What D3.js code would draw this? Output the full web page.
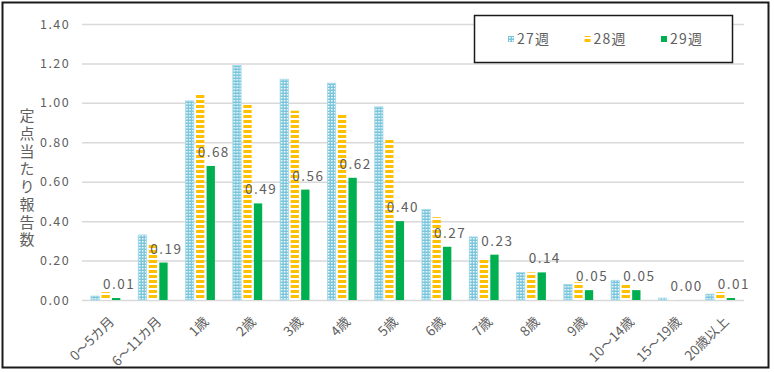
<!DOCTYPE html>
<html>
<head>
<meta charset="utf-8">
<script src="https://cdn.jsdelivr.net/npm/d3@7"></script>
<style>
  body { margin: 0; background: #fff; }
  svg text { font-family: "Noto Sans CJK JP", "Noto Sans", sans-serif; fill: #606060; }
</style>
</head>
<body>
<svg id="chart" width="774" height="372"></svg>
<script>
const categories = ['0～5カ月', '6～11カ月', '1歳', '2歳', '3歳', '4歳', '5歳', '6歳', '7歳', '8歳', '9歳', '10～14歳', '15～19歳', '20歳以上'];
const series = ['27週', '28週', '29週'];
const week27 = [0.02, 0.33, 1.01, 1.19, 1.12, 1.10, 0.98, 0.46, 0.32, 0.14, 0.08, 0.10, 0.01, 0.03];
const week28 = [0.04, 0.28, 1.04, 0.99, 0.96, 0.94, 0.82, 0.42, 0.21, 0.14, 0.09, 0.08, 0.01, 0.04];
const week29 = [0.01, 0.19, 0.68, 0.49, 0.56, 0.62, 0.40, 0.27, 0.23, 0.14, 0.05, 0.05, 0.00, 0.01];
const yTicks = [0, 0.2, 0.4, 0.6, 0.8, 1.0, 1.2, 1.4];
const yTitle = '定点当たり報告数';

const values = [week27, week28, week29];
const rows = categories.map((c, i) => ({
  cat: c,
  vals: series.map((s, j) => ({ s, v: values[j][i] }))
}));

const svg = d3.select('#chart');
const plot = { left: 82, right: 744, top: 24, bottom: 300 };

// patterns
const defs = svg.append('defs');
const dots = defs.append('pattern')
  .attr('id', 'p27').attr('patternUnits', 'userSpaceOnUse')
  .attr('width', 3).attr('height', 3);
dots.append('rect').attr('width', 3).attr('height', 3).attr('fill', '#79c5dc');
dots.append('rect').attr('x', 1).attr('y', 1).attr('width', 1.5).attr('height', 1.5).attr('fill', '#ffffff');

const stripes = defs.append('pattern')
  .attr('id', 'p28').attr('patternUnits', 'userSpaceOnUse')
  .attr('width', 5).attr('height', 5);
stripes.append('rect').attr('width', 5).attr('height', 5).attr('fill', '#ffffff');
stripes.append('rect').attr('width', 5).attr('height', 3).attr('fill', '#ffc000');

const fills = { '27週': 'url(#p27)', '28週': 'url(#p28)', '29週': '#00b050' };

const y = d3.scaleLinear().domain([0, 1.4]).range([plot.bottom, plot.top]);
const x0 = d3.scaleBand().domain(categories).range([plot.left, plot.right]);
const x1 = d3.scaleBand().domain(series).range([-14.7, 14.7]).paddingInner(0.21);

// outer frame
svg.append('rect')
  .attr('x', 2.5).attr('y', 2.5).attr('width', 766).attr('height', 365)
  .attr('fill', 'none').attr('stroke', '#1a1a1a').attr('stroke-width', 2);

// y axis + gridlines
const yAxis = svg.append('g')
  .attr('transform', `translate(${plot.left},0)`)
  .call(d3.axisLeft(y).tickValues(yTicks).tickFormat(d3.format('.2f'))
    .tickSize(-(plot.right - plot.left)).tickPadding(12));
yAxis.select('.domain').remove();
yAxis.selectAll('line').attr('stroke', '#d9d9d9').attr('stroke-width', 1.5);
yAxis.selectAll('text')
  .style('font-size', '12.5px').style('letter-spacing', '1.4px').attr('fill', '#606060');

// x axis labels
const xAxis = svg.append('g')
  .attr('transform', `translate(0,${plot.bottom})`)
  .call(d3.axisBottom(x0).tickSize(0));
xAxis.select('.domain').remove();
xAxis.selectAll('text')
  .style('font-size', '13.5px')
  .attr('fill', '#606060')
  .attr('text-anchor', 'end')
  .attr('dy', '0.35em')
  .attr('transform', 'translate(6,19) rotate(-45)')
  .attr('y', 0).attr('x', 0);

// bars
const groups = svg.append('g').selectAll('g')
  .data(rows).join('g')
  .attr('transform', d => `translate(${x0(d.cat) + x0.bandwidth() / 2},0)`);

groups.selectAll('rect')
  .data(d => d.vals).join('rect')
  .attr('x', d => x1(d.s))
  .attr('width', x1.bandwidth())
  .attr('y', d => y(d.v))
  .attr('height', d => plot.bottom - y(d.v))
  .attr('fill', d => fills[d.s])
  .attr('stroke', d => d.s === '27週' ? '#a9dbea' : 'none')
  .attr('stroke-width', 0.8);

// data labels for 29週
groups.append('text')
  .attr('x', x1('29週') + x1.bandwidth() / 2 + 3)
  .attr('y', d => y(d.vals[2].v) - 9)
  .attr('text-anchor', 'middle')
  .style('font-size', '13.5px')
  .style('letter-spacing', '1.5px')
  .text(d => d3.format('.2f')(d.vals[2].v));

// y title
svg.append('text')
  .attr('x', 27).attr('y', 179)
  .attr('text-anchor', 'middle')
  .style('writing-mode', 'vertical-rl')
  .style('text-orientation', 'upright')
  .style('font-size', '15px')
  .style('letter-spacing', '2.7px')
  .text(yTitle);

// legend
const legend = svg.append('g');
legend.append('rect')
  .attr('x', 474.5).attr('y', 15.5).attr('width', 258).attr('height', 47)
  .attr('fill', '#fff').attr('stroke', '#1a1a1a').attr('stroke-width', 1.5);
const item = legend.selectAll('g.item')
  .data(series).join('g').attr('class', 'item')
  .attr('transform', (d, i) => `translate(${508 + i * 76.5},39)`);
item.append('rect')
  .attr('x', 0).attr('y', -3).attr('width', 6).attr('height', 6)
  .attr('fill', d => fills[d]);
item.append('text')
  .attr('x', 9).attr('dy', '0.36em')
  .style('font-size', '14px')
  .style('letter-spacing', '1.2px')
  .text(d => d);
</script>
</body>
</html>
